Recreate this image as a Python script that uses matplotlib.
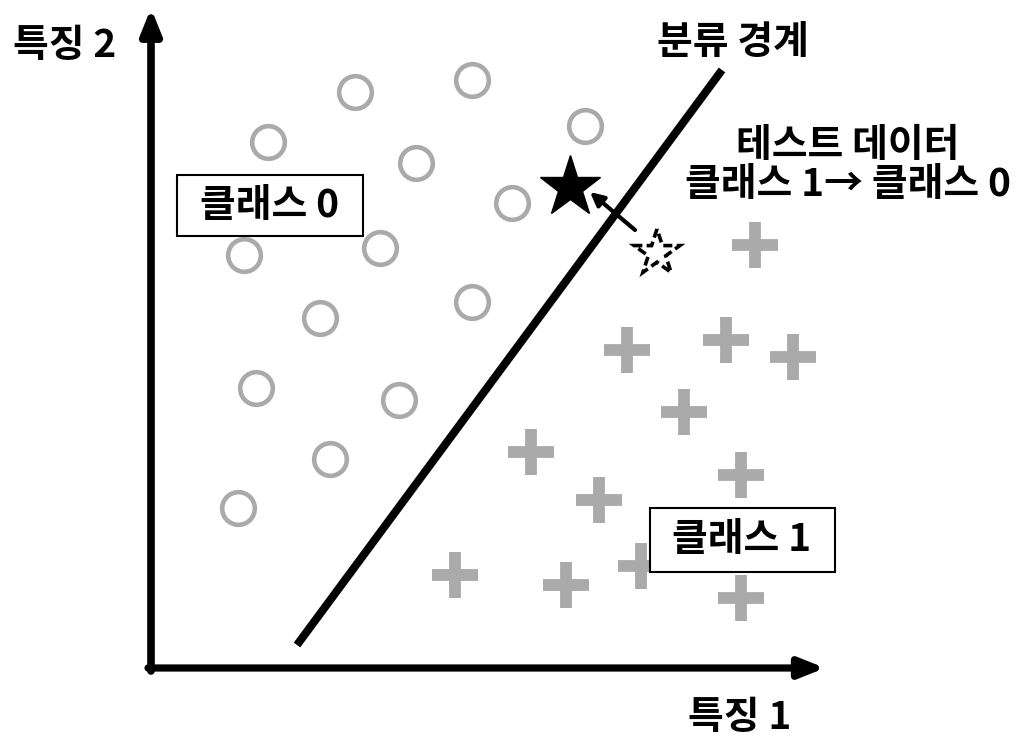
import matplotlib
matplotlib.use("Agg")
import matplotlib.pyplot as plt
from matplotlib.path import Path
from matplotlib.patches import PathPatch, Rectangle
from matplotlib.transforms import Affine2D

plt.rcParams['font.family'] = ['Noto Sans CJK KR', 'DejaVu Sans']

# Class 0 samples (feature 1, feature 2)
class0_x = [205, 322, 118, 266, 435, 362, 94, 230, 322, 170, 106, 249, 180, 88]
class0_y = [573, 585, 523, 502, 539, 462, 410, 417, 363, 347, 277, 265, 206, 157]

# Class 1 samples
class1_x = [605, 477, 576, 643, 534, 381, 591, 449, 305, 416, 491, 591]
class1_y = [420, 315, 325, 308, 253, 213, 190, 165, 90, 80, 99, 67]

# Decision boundary end points
boundary_x = [147, 572]
boundary_y = [20, 595]

# Test sample: original position (class 1) and moved position (class 0)
test_from = (507, 412)
test_to = (420, 478)

labels = {
    'y_axis': '특징 2',
    'x_axis': '특징 1',
    'boundary': '분류 경계',
    'test': '테스트 데이터\n클래스 1→ 클래스 0',
    'class0': '클래스 0',
    'class1': '클래스 1',
}

fig = plt.figure(figsize=(10.23, 7.37), dpi=100)
ax = fig.add_axes([0, 0, 1, 1])
ax.set_xlim(-150, 873)
ax.set_ylim(-72, 665)
ax.axis('off')

gray = '#aaaaaa'

# Axes arrows
head = 'simple,head_length=1.5,head_width=1.6,tail_width=0.45'
ax.annotate('', xy=(1, 657), xytext=(1, -6),
            arrowprops=dict(arrowstyle='-|>,head_length=1.5,head_width=0.6',
                            lw=5.5, color='black', shrinkA=0, shrinkB=0))
ax.annotate('', xy=(675, -3), xytext=(-2, -3),
            arrowprops=dict(arrowstyle='-|>,head_length=1.5,head_width=0.6',
                            lw=5.2, color='black', shrinkA=0, shrinkB=0))

# Samples
ax.plot(class0_x, class0_y, linestyle='none', marker='o', markersize=23.5,
        markerfacecolor='white', markeredgecolor=gray, markeredgewidth=3.3, zorder=2)
ax.plot(class1_x, class1_y, linestyle='none', marker='+', markersize=33,
        markeredgecolor=gray, markeredgewidth=8.5, zorder=2)

# Boundary
ax.plot(boundary_x, boundary_y, color='black', lw=5.8, solid_capstyle='butt', zorder=3)

# Filled star (moved test sample)
ax.plot([test_to[0]], [test_to[1]], marker='*', markersize=46, color='black',
        linestyle='none', zorder=4)

# Dashed hollow star (original test sample)
star = Path.unit_regular_star(5, innerCircle=0.381966)
star = star.transformed(Affine2D().scale(24).translate(*test_from))
ax.add_patch(PathPatch(star, facecolor='white', edgecolor='black', lw=2.6,
                       linestyle=(0, (2.5, 1.2)), zorder=4))

# Arrow from original to moved
ax.annotate('', xy=(440, 473), xytext=(485, 435),
            arrowprops=dict(arrowstyle='-|>,head_length=0.8,head_width=0.4',
                            lw=3, color='black', shrinkA=0, shrinkB=0), zorder=5)

fs = 28
ax.text(65 - 150, 665 - 45, labels['y_axis'], fontsize=fs, fontweight='bold',
        ha='center', va='center')
ax.text(740 - 150, 665 - 717, labels['x_axis'], fontsize=fs, fontweight='bold',
        ha='center', va='center')
ax.text(733 - 150, 665 - 42, labels['boundary'], fontsize=fs, fontweight='bold',
        ha='center', va='center')
ax.text(848 - 150, 665 - 165, labels['test'], fontsize=fs, fontweight='bold',
        ha='center', va='center', linespacing=1.02)

# Class label boxes
ax.add_patch(Rectangle((177 - 150, 665 - 236), 186, 61, facecolor='white',
                       edgecolor='black', lw=1.5, zorder=6))
ax.add_patch(Rectangle((650 - 150, 665 - 572), 185, 64, facecolor='white',
                       edgecolor='black', lw=1.5, zorder=6))
ax.text(270 - 150, 665 - 206, labels['class0'], fontsize=fs, fontweight='bold',
        ha='center', va='center', zorder=7)
ax.text(742 - 150, 665 - 540, labels['class1'], fontsize=fs, fontweight='bold',
        ha='center', va='center', zorder=7)

fig.savefig('out.png', dpi=100)
